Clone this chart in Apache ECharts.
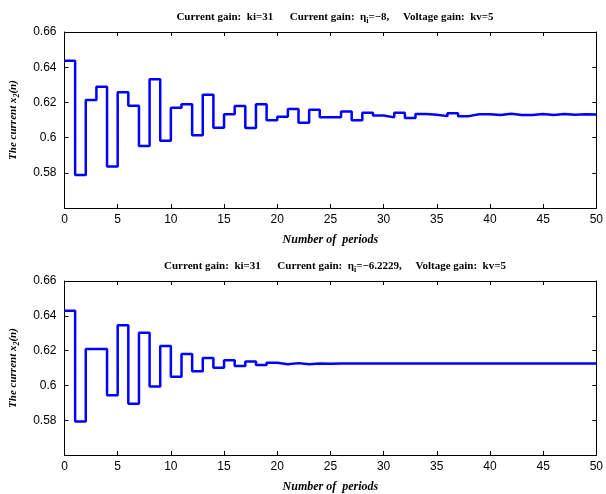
<!DOCTYPE html>
<html>
<head>
<meta charset="utf-8">
<script src="https://cdn.jsdelivr.net/npm/echarts@6/dist/echarts.min.js"></script>
<style>
html,body{margin:0;padding:0;background:#fff;}
#c{width:606px;height:494px;}
</style>
</head>
<body>
<div id="c"></div>
<script>
// Period index n = 0..50
var periods = [];
for (var i = 0; i <= 50; i++) periods.push(i);

// Top panel: eta_i = -8
var currentTop = [
  0.6436, 0.5787, 0.6213, 0.6289, 0.5836, 0.6257, 0.6181, 0.5952, 0.6332, 0.5982,
  0.6169, 0.6189, 0.6013, 0.6243, 0.6056, 0.6132, 0.6179, 0.6054, 0.6189, 0.6099,
  0.6118, 0.6162, 0.6084, 0.6158, 0.6116, 0.6115, 0.6149, 0.6099, 0.6141, 0.6126,
  0.6115, 0.6141, 0.6112, 0.6134, 0.6130, 0.6122, 0.6138, 0.6122, 0.6133, 0.6133,
  0.6128, 0.6136, 0.6128, 0.6128, 0.6134, 0.6129, 0.6134, 0.6130, 0.6133, 0.6131,
  0.6131
];

// Bottom panel: eta_i = -6.2229
var currentBottom = [
  0.6429, 0.5793, 0.6209, 0.6209, 0.5944, 0.6345, 0.5895, 0.6302, 0.5993, 0.6226,
  0.6049, 0.6181, 0.6081, 0.6158, 0.6102, 0.6145, 0.6112, 0.6137, 0.6117, 0.6130,
  0.6121, 0.6128, 0.6121, 0.6126, 0.6125, 0.6126, 0.6126, 0.6126, 0.6126, 0.6126,
  0.6126, 0.6126, 0.6126, 0.6126, 0.6126, 0.6126, 0.6126, 0.6126, 0.6126, 0.6126,
  0.6126, 0.6126, 0.6126, 0.6126, 0.6126, 0.6126, 0.6126, 0.6126, 0.6126, 0.6126,
  0.6126
];

var titlesEta = ['\u22128,', '\u22126.2229,'];
var xName = 'Number of  periods';

function pairs(vals) {
  return periods.map(function (n, k) { return [n, vals[k]]; });
}

var serif = '"Liberation Serif", "Times New Roman", serif';
var sans = '"Liberation Sans", Arial, sans-serif';

var grids = [
  {left: 61, right: 7, top: 32, height: 176},
  {left: 61, right: 7, top: 281, height: 176}
];

function xAx(g, pos, showLabel) {
  return {
    type: 'value', gridIndex: g, position: pos, min: 0, max: 50, interval: 5,
    axisLine: {show: true, onZero: false, lineStyle: {color: '#000', width: 1}},
    axisTick: {show: true, inside: true, length: 4, lineStyle: {color: '#000'}},
    axisLabel: {show: showLabel, color: '#000', fontFamily: sans, fontSize: 12, margin: 6},
    splitLine: {show: false},
    name: showLabel ? xName : '',
    nameLocation: 'middle', nameGap: 26,
    nameTextStyle: {fontFamily: serif, fontStyle: 'italic', fontWeight: 'bold', fontSize: 12, color: '#000'}
  };
}
function yAx(g, pos, showLabel) {
  return {
    type: 'value', gridIndex: g, position: pos, min: 0.56, max: 0.66, interval: 0.02,
    axisLine: {show: true, onZero: false, lineStyle: {color: '#000', width: 1}},
    axisTick: {show: true, inside: true, length: 4, lineStyle: {color: '#000'}},
    axisLabel: {show: showLabel, showMinLabel: false, color: '#000', fontFamily: sans, fontSize: 12, margin: 8,
      formatter: function (v) { return String(+v.toFixed(2)); }},
    splitLine: {show: false},
    name: showLabel ? '{a|The current x}{s|2}{a|(n)}' : '',
    nameLocation: 'middle', nameRotate: 90, nameGap: 44,
    nameTextStyle: {
      color: '#000',
      rich: {
        a: {fontFamily: serif, fontStyle: 'italic', fontWeight: 'bold', fontSize: 11, color: '#000'},
        s: {fontFamily: serif, fontStyle: 'italic', fontWeight: 'bold', fontSize: 8, color: '#000', padding: [6, 0, 0, 0]}
      }
    }
  };
}

function titleObj(eta, top) {
  return {
    text: '{a|Current gain:  ki=31      Current gain:  \u03B7}{s|i}{a|=' + eta + '     Voltage gain:  kv=5}',
    left: 330, top: top, textAlign: 'center',
    textStyle: {
      rich: {
        a: {fontFamily: serif, fontWeight: 'bold', fontSize: 11, color: '#000'},
        s: {fontFamily: serif, fontWeight: 'bold', fontSize: 8, color: '#000', padding: [7, 0, 0, 0]}
      }
    }
  };
}

var lineStyle = {color: '#0000FF', width: 2.5};

var option = {
  animation: false,
  backgroundColor: '#fff',
  title: [titleObj(titlesEta[0], 5), titleObj(titlesEta[1], 254)],
  grid: grids,
  xAxis: [xAx(0, 'bottom', true), xAx(0, 'top', false), xAx(1, 'bottom', true), xAx(1, 'top', false)],
  yAxis: [yAx(0, 'left', true), yAx(0, 'right', false), yAx(1, 'left', true), yAx(1, 'right', false)],
  series: [
    {type: 'line', xAxisIndex: 0, yAxisIndex: 0, step: 'end', data: pairs(currentTop),
      showSymbol: false, lineStyle: lineStyle, itemStyle: {color: '#0000FF'}},
    {type: 'line', xAxisIndex: 2, yAxisIndex: 2, step: 'end', data: pairs(currentBottom),
      showSymbol: false, lineStyle: lineStyle, itemStyle: {color: '#0000FF'}}
  ]
};

var chart = echarts.init(document.getElementById('c'), null, {renderer: 'canvas'});
chart.setOption(option);
</script>
</body>
</html>
